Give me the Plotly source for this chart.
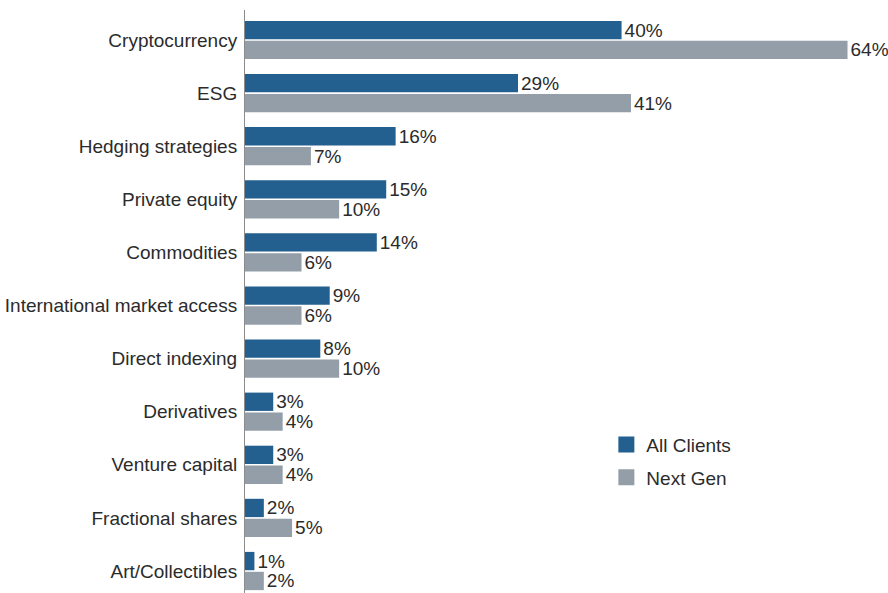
import plotly.graph_objects as go

categories = [
    "Cryptocurrency", "ESG", "Hedging strategies", "Private equity",
    "Commodities", "International market access", "Direct indexing",
    "Derivatives", "Venture capital", "Fractional shares", "Art/Collectibles",
]
all_clients = [40, 29, 16, 15, 14, 9, 8, 3, 3, 2, 1]
next_gen = [64, 41, 7, 10, 6, 6, 10, 4, 4, 5, 2]

BLUE = "#23608f"
GRAY = "#949ea8"
FONT = "Liberation Sans, Arial, sans-serif"
FS = 19

fig = go.Figure()
for name, vals, color in [("All Clients", all_clients, BLUE), ("Next Gen", next_gen, GRAY)]:
    fig.add_trace(go.Bar(
        y=categories, x=vals, orientation="h", name=name,
        marker=dict(color=color, line=dict(width=0)),
        text=[f"{v}%" for v in vals], textposition="outside",
        textfont=dict(size=FS, color="#2b2b2b", family=FONT),
        constraintext="none", cliponaxis=False, showlegend=False,
    ))
    # legend swatch
    fig.add_trace(go.Scatter(
        x=[None], y=[None], mode="markers", name=name, legendgroup=name,
        marker=dict(symbol="square", size=16, color=color),
    ))

fig.update_layout(
    width=888, height=593,
    margin=dict(l=245, r=0, t=10, b=0, autoexpand=False),
    paper_bgcolor="white", plot_bgcolor="white",
    barmode="group", bargap=0.25, bargroupgap=0.08,
    font=dict(family=FONT, size=FS, color="#2b2b2b"),
    showlegend=True,
    legend=dict(
        x=0.562, y=0.287, xanchor="left", yanchor="top",
        font=dict(size=FS, color="#2b2b2b"),
        bgcolor="rgba(0,0,0,0)", itemsizing="trace",
        tracegroupgap=5,
    ),
    xaxis=dict(range=[0, 68.3], visible=False, fixedrange=True),
    yaxis=dict(
        type="category", range=[10.414, -0.565],
        showline=True, linecolor="#8c8c8c", linewidth=1,
        showgrid=False, zeroline=False, ticks="",
        ticklabelstandoff=3,
        tickfont=dict(size=FS, color="#2b2b2b"),
    ),
)

fig.write_html("out.html")
